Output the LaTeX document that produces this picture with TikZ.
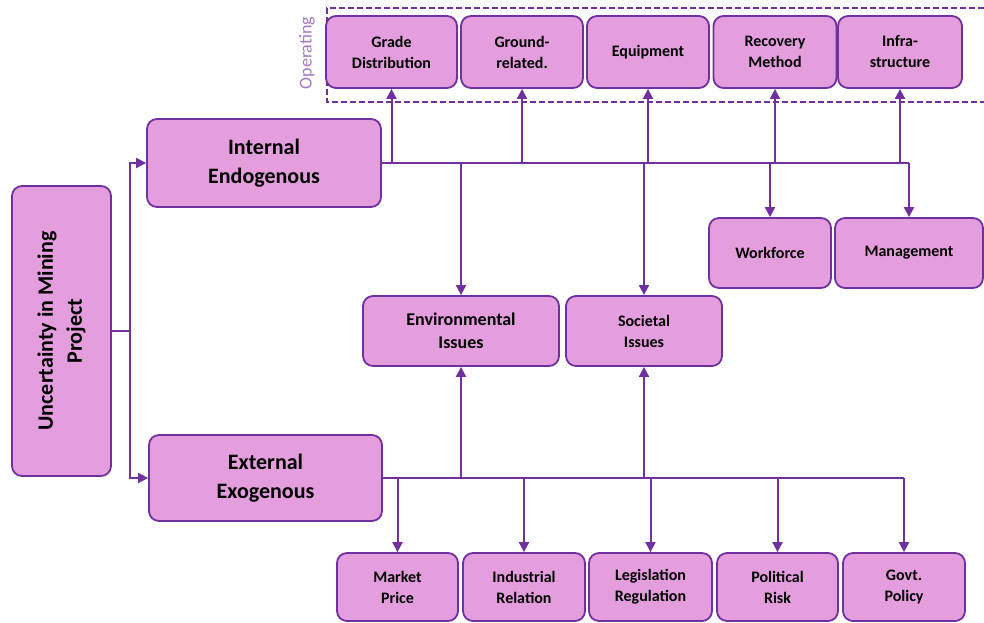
\documentclass[tikz,border=0pt]{standalone}
\usepackage{fontspec}
\setmainfont{Carlito}
\usetikzlibrary{arrows.meta}
\definecolor{miningPink}{RGB}{228,158,222}
\definecolor{miningPurple}{RGB}{112,48,160}
\definecolor{miningLilac}{RGB}{165,120,195}
\tikzset{
  factor/.style={draw=miningPurple, line width=1.8pt, fill=miningPink, rounded corners=10pt,
    align=center, inner sep=2pt, font=\bfseries\fontsize{16}{21}\selectfont},
  bigfactor/.style={factor, font=\bfseries\fontsize{22}{29}\selectfont},
  link/.style={miningPurple, line width=2pt},
  flow/.style={link, -{Triangle[length=10pt,width=10pt]}},
}
\begin{document}
\begin{tikzpicture}[x=1pt, y=-1pt]
\useasboundingbox (0,0) rectangle (984,623);
% operating frame
\draw[miningPurple, line width=1.4pt, dash pattern=on 6pt off 3pt] (984,8) -- (327,8) -- (327,102) -- (984,102);
\node[rotate=90, text=miningLilac, font=\fontsize{18}{20}\selectfont] (operating) at (307,53) {Operating};
% main nodes
\node[bigfactor, rotate=90, minimum width=290pt, minimum height=99pt] (uncert) at (61.5,331) {Uncertainty in Mining\\Project};
\node[bigfactor, minimum width=234pt, minimum height=88pt] (internal) at (264,163) {Internal\\Endogenous};
\node[bigfactor, minimum width=233pt, minimum height=86pt] (external) at (265.5,478) {External\\Exogenous};
% operating factors
\node[factor, minimum width=131pt, minimum height=72pt] (grade) at (391.5,52) {Grade\\Distribution};
\node[factor, minimum width=122pt, minimum height=72pt] (ground) at (522,52) {Ground-\\related.};
\node[factor, minimum width=122pt, minimum height=72pt] (equip) at (648,52) {Equipment};
\node[factor, minimum width=123pt, minimum height=72pt] (recovery) at (775,52) {Recovery\\Method};
\node[factor, minimum width=124pt, minimum height=72pt] (infra) at (900,52) {Infra-\\structure};
\node[factor, minimum width=122pt, minimum height=70pt] (workforce) at (770,253) {Workforce};
\node[factor, minimum width=148pt, minimum height=70pt] (mgmt) at (909,253) {Management};
% shared factors
\node[factor, minimum width=196pt, minimum height=70pt, font=\bfseries\fontsize{18}{23}\selectfont] (env) at (461,331) {Environmental\\Issues};
\node[factor, minimum width=156pt, minimum height=70pt] (society) at (644,331) {Societal\\Issues};
% external factors
\node[factor, minimum width=121pt, minimum height=68pt] (market) at (397.5,587) {Market\\Price};
\node[factor, minimum width=122pt, minimum height=68pt] (industrial) at (524,587) {Industrial\\Relation};
\node[factor, minimum width=123pt, minimum height=68pt] (legis) at (650.5,587) {Legislation\\Regulation};
\node[factor, minimum width=121pt, minimum height=68pt] (political) at (777.5,587) {Political\\Risk};
\node[factor, minimum width=122pt, minimum height=68pt] (govt) at (904,587) {Govt.\\Policy};
% root split
\draw[link] (uncert.south) -- ++(18,0) coordinate (split);
\draw[flow] (split) |- (internal.west);
\draw[flow] (split) |- (external.west);
% internal branch
\draw[link] (internal.east) -- (internal.east -| mgmt.center);
\foreach \up in {grade, ground, equip, recovery, infra}
  \draw[flow] (\up.center |- internal.east) -- (\up.south);
\foreach \down in {workforce, mgmt, env, society}
  \draw[flow] (\down.center |- internal.east) -- (\down.north);
% external branch
\draw[link] (external.east) -- (external.east -| govt.center);
\foreach \up in {env, society}
  \draw[flow] (\up.center |- external.east) -- (\up.south);
\foreach \down in {market, industrial, legis, political, govt}
  \draw[flow] (\down.center |- external.east) -- (\down.north);
\end{tikzpicture}
\end{document}
